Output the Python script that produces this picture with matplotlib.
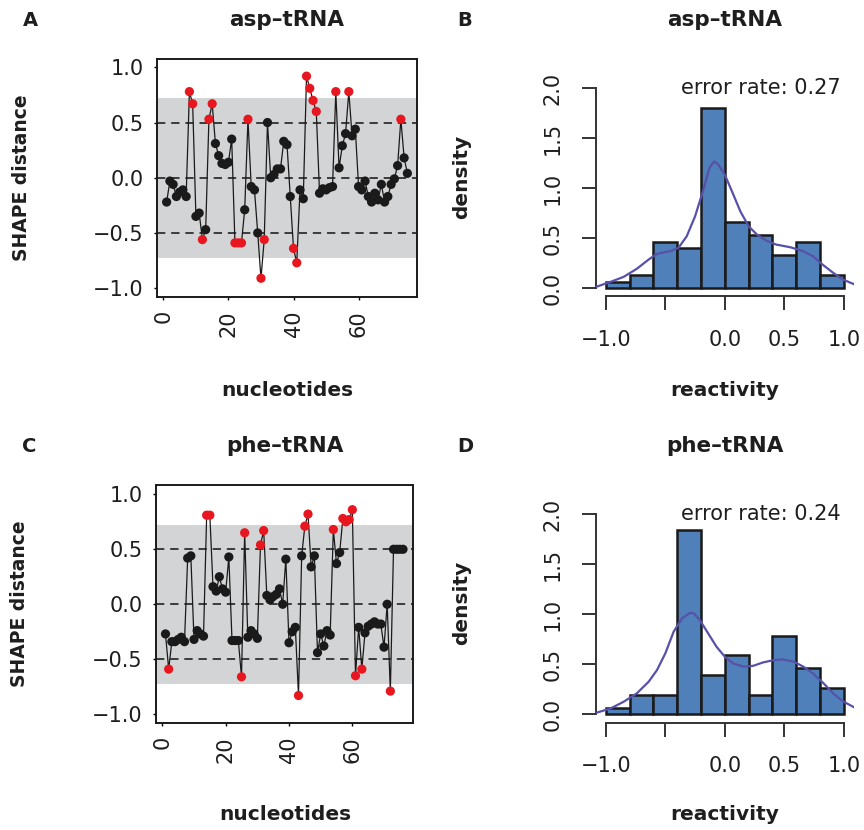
import numpy as np
import matplotlib
matplotlib.use("Agg")
import matplotlib.pyplot as plt

# ---------------- data ----------------
asp_shape = [-0.22, -0.03, -0.06, -0.17, -0.13, -0.11, -0.17, 0.78, 0.67, -0.35,
             -0.32, -0.56, -0.47, 0.53, 0.67, 0.31, 0.20, 0.13, 0.12, 0.14,
             0.35, -0.59, -0.59, -0.59, -0.29, 0.53, -0.08, -0.11, -0.50, -0.91,
             -0.56, 0.50, 0.00, 0.03, 0.08, 0.08, 0.33, 0.30, -0.17, -0.64,
             -0.77, -0.11, -0.19, 0.92, 0.81, 0.70, 0.60, -0.14, -0.10, -0.11,
             -0.09, -0.08, 0.78, 0.09, 0.29, 0.40, 0.78, 0.38, 0.44, -0.08,
             -0.11, -0.03, -0.17, -0.22, -0.14, -0.20, -0.06, -0.22, -0.17, -0.06,
             -0.01, 0.11, 0.53, 0.18, 0.04]
phe_shape = [-0.27, -0.59, -0.34, -0.34, -0.32, -0.30, -0.34, 0.42, 0.44, -0.32,
             -0.24, -0.27, -0.29, 0.81, 0.81, 0.16, 0.12, 0.25, 0.14, 0.11,
             0.43, -0.33, -0.33, -0.33, -0.66, 0.65, -0.30, -0.24, -0.27, -0.31,
             0.54, 0.67, 0.08, 0.04, 0.07, 0.09, 0.14, 0.00, 0.41, -0.35,
             -0.25, -0.21, -0.83, 0.44, 0.71, 0.82, 0.34, 0.44, -0.44, -0.27,
             -0.38, -0.24, -0.28, 0.68, 0.37, 0.47, 0.78, 0.75, 0.77, 0.86,
             -0.65, -0.21, -0.59, -0.26, -0.20, -0.18, -0.16, -0.18, -0.18, -0.39,
             0.00, -0.79, 0.50, 0.50, 0.50, 0.50]
asp_nt = list(range(1, len(asp_shape) + 1))
phe_nt = list(range(1, len(phe_shape) + 1))

bin_edges = [-1.0, -0.8, -0.6, -0.4, -0.2, 0.0, 0.2, 0.4, 0.6, 0.8, 1.0]
asp_density = [0.067, 0.133, 0.467, 0.400, 1.800, 0.667, 0.533, 0.333, 0.467, 0.133]
phe_density = [0.066, 0.197, 0.197, 1.842, 0.395, 0.592, 0.197, 0.789, 0.461, 0.263]

asp_kde_x = [-1.08, -0.96, -0.85, -0.74, -0.64, -0.57, -0.50, -0.46, -0.39, -0.32, -0.25,
             -0.18, -0.13, -0.09, -0.06, 0.00, 0.06, 0.13, 0.20, 0.27, 0.35, 0.43,
             0.55, 0.66, 0.74, 0.82, 0.91, 0.99, 1.08]
asp_kde_y = [0.017, 0.066, 0.116, 0.196, 0.289, 0.346, 0.365, 0.372, 0.405, 0.522, 0.721,
             0.987, 1.203, 1.269, 1.246, 1.136, 0.970, 0.771, 0.621, 0.538, 0.478, 0.439,
             0.412, 0.372, 0.322, 0.239, 0.156, 0.090, 0.045]
phe_kde_x = [-1.08, -0.96, -0.85, -0.74, -0.64, -0.57, -0.50, -0.43, -0.36, -0.29, -0.26,
             -0.21, -0.14, -0.07, 0.00, 0.07, 0.16, 0.24, 0.32, 0.41, 0.49, 0.58,
             0.66, 0.74, 0.83, 0.91, 0.99, 1.08]
phe_kde_y = [0.017, 0.060, 0.127, 0.210, 0.327, 0.443, 0.610, 0.827, 0.960, 1.017, 1.010,
             0.943, 0.810, 0.677, 0.577, 0.510, 0.477, 0.487, 0.520, 0.543, 0.550, 0.527,
             0.477, 0.410, 0.310, 0.210, 0.133, 0.075]

titles = ["asp\u2013tRNA", "phe\u2013tRNA"]
error_rates = ["error rate: 0.27", "error rate: 0.24"]
letters = ["A", "B", "C", "D"]
threshold = 0.5
band = 0.725

# ---------------- style ----------------
W, H = 864, 830
fig = plt.figure(figsize=(W / 100, H / 100), dpi=100)
plt.rcParams['font.family'] = ['DejaVu Sans']
TXT = '#1e1e1e'
RED = '#e8161e'
GREY = '#d3d4d6'
BLUE = '#4f80b9'
CURVE = '#5751a9'
TICK_FS = 15
LAB_FS = 14.5


def px_axes(left, top, right, bottom):
    return fig.add_axes([left / W, 1 - bottom / H, (right - left) / W, (bottom - top) / H])


def ftext(x, y, s, **kw):
    fig.text(x / W, 1 - y / H, s, **kw)


def shape_panel(ax, nt, vals):
    n = len(nt)
    span = n - 1
    ax.set_xlim(1 - 0.04 * span, n + 0.04 * span)
    ax.set_ylim(-1.08, 1.08)
    ax.axhspan(-band, band, color=GREY, lw=0, zorder=0)
    for yv in (-0.5, 0.0, 0.5):
        ax.axhline(yv, color='#222222', lw=1.2, dashes=(5, 3.5), zorder=1)
    ax.plot(nt, vals, color='#1a1a1a', lw=0.9, zorder=2)
    cols = [RED if abs(v) > threshold else '#1a1a1a' for v in vals]
    ax.scatter(nt, vals, s=44, c=cols, edgecolors='none', zorder=3)
    ax.set_yticks([-1.0, -0.5, 0.0, 0.5, 1.0])
    ax.set_yticklabels(['\u22121.0', '\u22120.5', '0.0', '0.5', '1.0'])
    ax.set_xticks([0, 20, 40, 60])
    ax.tick_params(axis='y', length=2.5, width=1, pad=7, labelsize=TICK_FS, labelcolor=TXT)
    ax.tick_params(axis='x', length=2.5, width=1, pad=7, labelsize=TICK_FS, labelcolor=TXT,
                   labelrotation=90)
    for s in ax.spines.values():
        s.set_linewidth(1.4)
        s.set_color('#1a1a1a')


def hist_panel(ax, dens, kx, ky, label):
    ax.set_xlim(-1.08, 1.08)
    ax.set_ylim(-0.08, 2.08)
    lefts = bin_edges[:-1]
    widths = np.diff(bin_edges)
    ax.bar(lefts, dens, width=widths, align='edge', color=BLUE, edgecolor='#1a1a1a',
           linewidth=1.8, zorder=2)
    ax.plot(kx, ky, color=CURVE, lw=1.6, zorder=3)
    for sp in ('top', 'right'):
        ax.spines[sp].set_visible(False)
    ax.spines['left'].set_bounds(0, 2)
    ax.spines['bottom'].set_bounds(-1, 1)
    for sp in ('left', 'bottom'):
        ax.spines[sp].set_linewidth(1.4)
        ax.spines[sp].set_color('#333333')
    ax.set_yticks([0.0, 0.5, 1.0, 1.5, 2.0])
    ax.set_yticklabels(['0.0', '0.5', '1.0', '1.5', '2.0'], rotation=90, va='center')
    ax.set_xticks([-1.0, -0.5, 0.0, 0.5, 1.0])
    ax.set_xticklabels(['\u22121.0', '', '0.0', '0.5', '1.0'])
    ax.tick_params(axis='both', length=10, width=1.4, color='#333333',
                   labelsize=TICK_FS, labelcolor=TXT)
    ax.tick_params(axis='x', pad=14)
    ax.tick_params(axis='y', pad=14)
    ax.text(0.30, 2.0, label, ha='center', va='center', fontsize=TICK_FS, color=TXT)


axA = px_axes(157, 58.5, 417, 297)
axB = px_axes(596.2, 80.3, 853.5, 296.5)
axC = px_axes(156, 485.5, 412.5, 723)
axD = px_axes(596.2, 506.3, 853.5, 722.5)

shape_panel(axA, asp_nt, asp_shape)
shape_panel(axC, phe_nt, phe_shape)
hist_panel(axB, asp_density, asp_kde_x, asp_kde_y, error_rates[0])
hist_panel(axD, phe_density, phe_kde_x, phe_kde_y, error_rates[1])

# titles, letters and axis labels
bold = dict(fontweight='bold', color=TXT, ha='center', va='center')
ftext(287, 20, titles[0], fontsize=15.5, **bold)
ftext(725, 20, titles[0], fontsize=15.5, **bold)
ftext(285, 446, titles[1], fontsize=15.5, **bold)
ftext(725, 446, titles[1], fontsize=15.5, **bold)

ftext(30, 21, letters[0], fontsize=14, **bold)
ftext(465, 21, letters[1], fontsize=14, **bold)
ftext(29, 446, letters[2], fontsize=14, **bold)
ftext(465, 446, letters[3], fontsize=14, **bold)

ftext(287, 390, "nucleotides", fontsize=LAB_FS, **bold)
ftext(285, 814, "nucleotides", fontsize=LAB_FS, **bold)
ftext(725, 390, "reactivity", fontsize=LAB_FS, **bold)
ftext(725, 814, "reactivity", fontsize=LAB_FS, **bold)

ftext(22, 178, "SHAPE distance", fontsize=13.5, rotation=90, **bold)
ftext(20, 604, "SHAPE distance", fontsize=13.5, rotation=90, **bold)
ftext(462, 177, "density", fontsize=LAB_FS, rotation=90, **bold)
ftext(462, 603, "density", fontsize=LAB_FS, rotation=90, **bold)

fig.savefig("out.png", dpi=100)
